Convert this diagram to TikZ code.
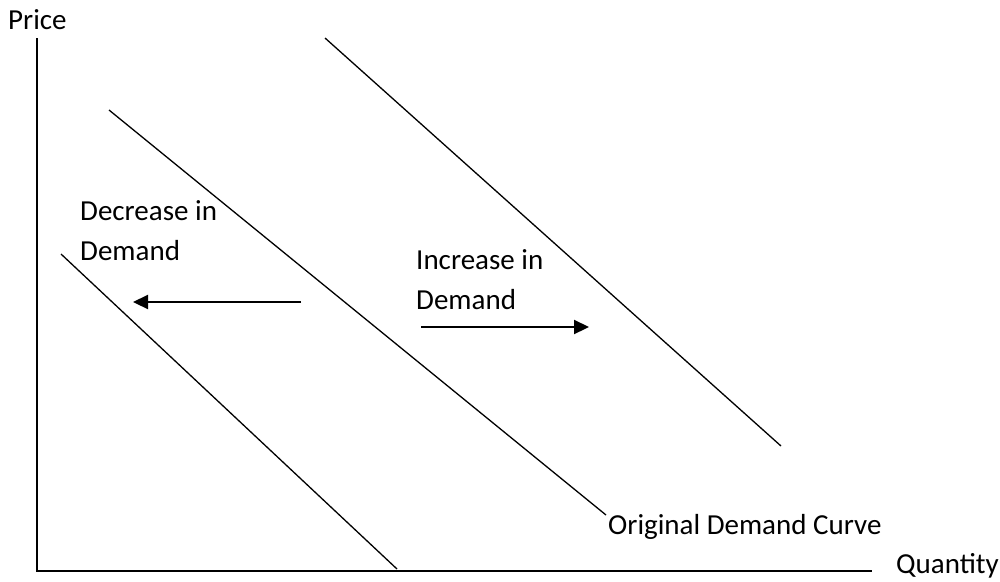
\documentclass[tikz,border=0pt]{standalone}
\usepackage{fontspec}
\setmainfont{Carlito}
\usetikzlibrary{arrows.meta}
\begin{document}
\begin{tikzpicture}[x=1pt,y=-1pt,
  lbl/.style={inner sep=0pt,anchor=west,font=\fontsize{29}{40}\selectfont,align=left},
  axis/.style={line width=1.8pt},
  curve/.style={line width=1.3pt},
  shiftarrow/.style={line width=2.2pt,-{Triangle[length=15pt,width=14pt]}}]
\useasboundingbox (0,0) rectangle (1000,581);
% axes
\coordinate (ytop) at (37,38);
\coordinate (orig) at (37,571);
\coordinate (xend) at (872,571);
\draw[axis] (ytop) -- (orig) -- (xend);
\node[lbl] (price) at (8,20) {Price};
\node[lbl] (qty) at (896,566) {Quantity};
% curves
\coordinate (a1) at (61,254); \coordinate (a2) at (397,569);
\coordinate (b1) at (109,110); \coordinate (b2) at (606,515);
\coordinate (c1) at (325,38); \coordinate (c2) at (781,446);
\draw[curve] (a1) -- (a2);
\draw[curve] (b1) -- (b2);
\draw[curve] (c1) -- (c2);
% arrows
\coordinate (l1) at (301,302); \coordinate (l2) at (133,302);
\coordinate (r1) at (421,327); \coordinate (r2) at (589,327);
\draw[shiftarrow] (l1) -- (l2);
\draw[shiftarrow] (r1) -- (r2);
% labels
\node[lbl] (dec) at (80,231) {Decrease in\\Demand};
\node[lbl] (inc) at (416,280) {Increase in\\Demand};
\node[lbl] (orgl) at (608,527) {Original Demand Curve};
\end{tikzpicture}
\end{document}
